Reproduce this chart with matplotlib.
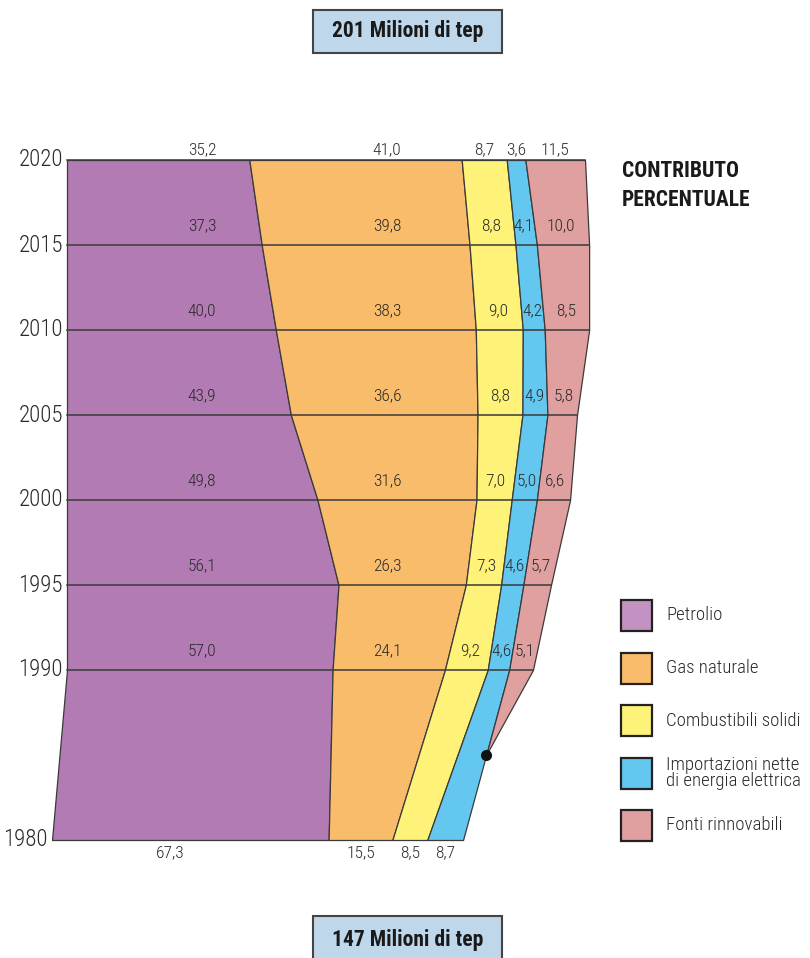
#Composizione percentuale dei consumi di energia, 1980-2020
import matplotlib.pyplot as plt
import numpy as np
from matplotlib.patches import Rectangle

plt.rcParams['font.family'] = ['Roboto Condensed', 'Roboto', 'DejaVu Sans']

anni = [1980, 1990, 1995, 2000, 2005, 2010, 2015, 2020]
petrolio = [67.3, 57.0, 56.1, 49.8, 43.9, 40.0, 37.3, 35.2]
gas = [15.5, 24.1, 26.3, 31.6, 36.6, 38.3, 39.8, 41.0]
solidi = [8.5, 9.2, 7.3, 7.0, 8.8, 9.0, 8.8, 8.7]
importazioni = [8.7, 4.6, 4.6, 5.0, 4.9, 4.2, 4.1, 3.6]
rinnovabili = [0.0, 5.1, 5.7, 6.6, 5.8, 8.5, 10.0, 11.5]
inizio_rinnovabili = 1985
# ampiezza totale della fascia (Mtep)
totale = [159.5, 180.8, 187.8, 195.2, 197.9, 202.6, 202.6, 201.0]

nomi = ["Petrolio", "Gas naturale", "Combustibili solidi",
        "Importazioni nette\ndi energia elettrica", "Fonti rinnovabili"]
colori = ['#B27BB3', '#F9BC6A', '#FEF279', '#63C7F0', '#E0A09F']
colori_legenda = ['#C192C2', '#F9BC6A', '#FEF279', '#63C7F0', '#E0A09F']
bordo = '#3a3a3a'
testo = '#2a2a2a'
peso = 'light'

W, H = 810, 958
k = 518 / 201          # pixel per Mtep
px_anno = 17.0         # pixel per anno
spost_sx = [-15 / k, 0, 0, 0, 0, 0, 0, 0]   # bordo sinistro (il 1980 sporge un po')

fig = plt.figure(figsize=(W / 100, H / 100), dpi=100)
ax = fig.add_axes([0, 0, 1, 1])
ax.set_xlim(-67 / k, (W - 67) / k)
ax.set_ylim(1980 - (H - 840) / px_anno, 1980 + 840 / px_anno)
ax.axis('off')

quote = np.array([petrolio, gas, solidi, importazioni, rinnovabili]) / 100
sx = np.array(spost_sx)
cum = np.vstack([np.zeros(len(anni)), np.cumsum(quote, axis=0)])
bordi = sx + cum * np.array(totale)

# fasce
for j in range(4):
    ax.fill_betweenx(anni, bordi[j], bordi[j + 1], facecolor=colori[j],
                     edgecolor=bordo, lw=0.9, zorder=2)

# rinnovabili: partono da zero nel 1985
x0 = np.interp(inizio_rinnovabili, anni, bordi[4])
anni_r = [inizio_rinnovabili] + anni[1:]
r_sx = np.concatenate([[x0], bordi[4][1:]])
r_dx = np.concatenate([[x0], bordi[5][1:]])
ax.fill_betweenx(anni_r, r_sx, r_dx, facecolor=colori[4], edgecolor=bordo,
                 lw=0.9, zorder=2)
ax.plot([x0], [inizio_rinnovabili], 'o', color='#111111', ms=7, zorder=5)

# linee orizzontali degli anni
for i, a in enumerate(anni[1:], start=1):
    ax.plot([sx[i], bordi[5][i]], [a, a], color=bordo, lw=1.1, zorder=3)

# etichette anni
for i, a in enumerate(anni):
    ax.annotate(str(a), (sx[i], a), xytext=(-3, 0), textcoords='offset points',
                ha='right', va='center', fontsize=16.5, color=testo,
                fontweight=peso)

# valori percentuali
col_petrolio = (202 - 67) / k
col_gas = (387 - 67) / k
for i, a in enumerate(anni):
    if a == 2020:
        y = a + 10 / px_anno
    elif a == 1980:
        y = a - 13 / px_anno
    else:
        y = a + 19 / px_anno
    for j in range(5):
        v = quote[j][i] * 100
        if v == 0:
            continue
        if j == 4:
            xl = np.interp(y, anni_r, r_sx)
            xr = np.interp(y, anni_r, r_dx)
        else:
            xl = np.interp(y, anni, bordi[j])
            xr = np.interp(y, anni, bordi[j + 1])
        x = (xl + xr) / 2
        if j == 0:
            x = col_petrolio if a != 1980 else (170 - 67) / k
        elif j == 1 and a != 1980:
            x = col_gas
        ax.text(x, y, f"{v:.1f}".replace('.', ','), ha='center', va='center',
                fontsize=12.5, color=testo, fontweight=peso, zorder=4)

# riquadri con i totali
for y0, y1, yc, s in [(10, 53, 31.5, "201 Milioni di tep"),
                      (916, 962, 940, "147 Milioni di tep")]:
    fig.add_artist(Rectangle((313 / W, 1 - y1 / H), 189 / W, (y1 - y0) / H,
                             transform=fig.transFigure, facecolor='#BED7EA',
                             edgecolor='#444444', lw=1.5))
    fig.text(407.5 / W, 1 - yc / H, s, ha='center', va='center',
             fontsize=15.5, fontweight='bold', color='#1a1a1a')

fig.text(622 / W, 1 - 171 / H, "CONTRIBUTO", ha='left', va='center',
         fontsize=15.5, fontweight='bold', color='#1a1a1a')
fig.text(622 / W, 1 - 200 / H, "PERCENTUALE", ha='left', va='center',
         fontsize=15.5, fontweight='bold', color='#1a1a1a')

# legenda
for n, (nome, c) in enumerate(zip(nomi, colori_legenda)):
    yt = 600 + n * 52.5
    fig.add_artist(Rectangle((621 / W, 1 - (yt + 31) / H), 31 / W, 31 / H,
                             transform=fig.transFigure, facecolor=c,
                             edgecolor='#222222', lw=1.6))
    fig.text(666 / W, 1 - (yt + 15.5) / H, nome, ha='left', va='center',
             fontsize=13.5, color=testo, fontweight=peso, linespacing=0.85)

plt.savefig('out.png', dpi=100)
